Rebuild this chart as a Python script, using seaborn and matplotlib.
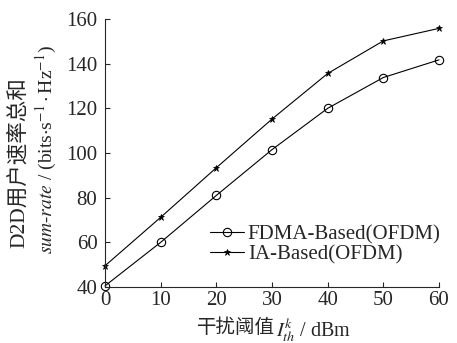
import pandas as pd
import matplotlib
matplotlib.use("Agg")
import matplotlib.pyplot as plt
import seaborn as sns

# valores
umbral = [0, 10, 20, 30, 40, 50, 60]
fdma = [40.5, 60, 81, 101.5, 120, 133.8, 141.7]
ia = [49.5, 71.2, 93.4, 115.2, 135.6, 150.2, 155.8]
etiquetas = ["FDMA-Based(OFDM)", "IA-Based(OFDM)"]
xticks = [0, 10, 20, 30, 40, 50, 60]
yticks = [40, 60, 80, 100, 120, 140, 160]

sns.set_style("ticks")
plt.rcParams["font.family"] = ["Liberation Serif", "Noto Sans CJK SC"]
plt.rcParams["mathtext.fontset"] = "stix"
plt.rcParams["xtick.direction"] = "in"
plt.rcParams["ytick.direction"] = "in"

df = pd.DataFrame({"x": umbral * 2,
                   "y": fdma + ia,
                   "serie": [etiquetas[0]] * 7 + [etiquetas[1]] * 7})

fig = plt.figure(figsize=(4.57, 3.43), dpi=100)
ax = fig.add_axes([0.2298, 0.1633, 0.7308, 0.7813])

sns.lineplot(data=df[df.serie == etiquetas[0]], x="x", y="y", label=etiquetas[0],
             color="black", lw=0.8, marker="o", markersize=6,
             markerfacecolor="none", markeredgecolor="black", markeredgewidth=0.8,
             clip_on=False, ax=ax)
sns.lineplot(data=df[df.serie == etiquetas[1]], x="x", y="y", label=etiquetas[1],
             color="black", lw=0.8, marker="*", markersize=5,
             markerfacecolor="black", markeredgecolor="black", markeredgewidth=0.5,
             clip_on=False, ax=ax)

ax.set_xlim(0, 60)
ax.set_ylim(40, 160)
ax.set_xticks(xticks)
ax.set_yticks(yticks)
ax.tick_params(labelsize=15, length=3.5, width=0.8)
ax.tick_params(axis="y", pad=5.5)
ax.tick_params(axis="x", pad=3)
for s in ["top", "right"]:
    ax.spines[s].set_visible(False)
for s in ["left", "bottom"]:
    ax.spines[s].set_linewidth(0.8)
ax.set_xlabel("")
ax.set_ylabel("")

leg = ax.legend(loc="lower right", bbox_to_anchor=(1.005, 0.085), frameon=False,
                fontsize=15, handlelength=1.6, handletextpad=0.2,
                labelspacing=0.0, borderpad=0, borderaxespad=0)

# etiqueta del eje y (dos líneas)
fig.text(19 / 457, 1 - 163 / 343, "D2D用户速率总和", rotation=90,
         ha="center", va="center", fontsize=15.5)
fig.text(46 / 457, 1 - 150 / 343,
         r"$\mathit{sum\text{-}rate}$ / (bits$\cdot$s$^{-1}\cdot$Hz$^{-1}$)",
         rotation=90, ha="center", va="center", fontsize=14)

# etiqueta del eje x
t1 = fig.text(197 / 457, 1 - 333 / 343, "干扰阈值", ha="left", va="baseline",
              fontsize=14)
ax.annotate(r"$I_{th}^{k}$ / dBm", xy=(1, 0), xycoords=t1, xytext=(1, 0),
            textcoords="offset points", ha="left", va="baseline", fontsize=14.5)

plt.savefig("out.png", dpi=100)
